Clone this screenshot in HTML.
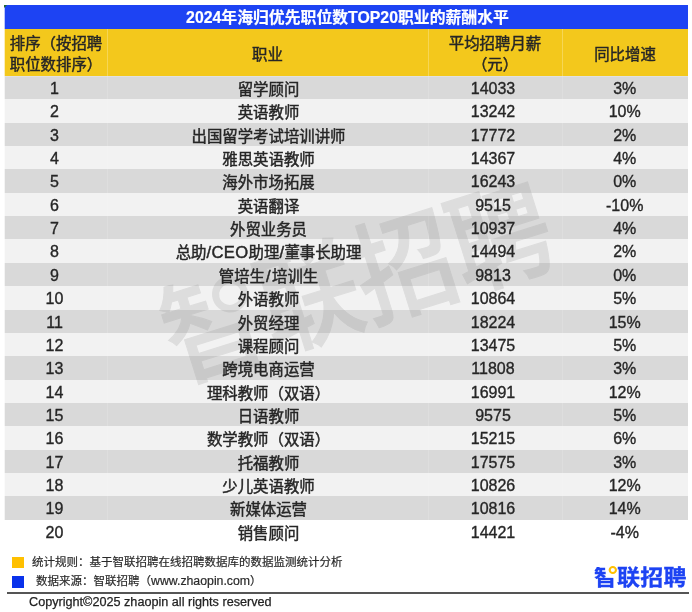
<!DOCTYPE html><html lang="zh-CN"><head><meta charset="utf-8"><title>2024年海归优先职位数TOP20职业的薪酬水平</title><style>
*{margin:0;padding:0;box-sizing:border-box}
html,body{width:692px;height:612px;background:#fff;overflow:hidden}
body{position:relative;font-family:"Liberation Sans","Noto Sans CJK SC",sans-serif;color:#262626}
.abs{position:absolute}
.titlebg{left:5px;top:5px;width:683px;height:24px;background:#1d43f3}
.title{display:block;left:5px;top:5px;width:683px;height:24px;padding-left:2px;-webkit-text-stroke:0.2px #fff;color:#fff;font-weight:bold;font-size:15.85px;line-height:26px;text-align:center;white-space:nowrap}
.hdbg{top:29px;height:47px;background:#f3c81c}
.hd{top:29px;height:47px;padding-top:5px;font-weight:normal;color:#262626;font-size:15.4px;line-height:20.8px;-webkit-text-stroke:0.45px #262626;text-align:center;display:flex;align-items:center;justify-content:center;white-space:nowrap}
.row{left:5px;width:683px}
.tb,.tb thead,.tb tbody,.tb tr{display:block;position:static}
.c{display:block;position:absolute;text-align:center;font-size:15.4px;-webkit-text-stroke:0.45px #262626;white-space:nowrap}
.c.n{font-size:16px;-webkit-text-stroke:0.35px #262626}
.sep{position:absolute;width:1px;background:rgba(255,255,255,.3)}
.wm{left:357px;top:285px;width:0;height:0}
.wmt{position:absolute;font-family:"Liberation Sans","Noto Sans CJK SC",sans-serif;left:-250px;top:-51px;width:500px;height:1em;line-height:1em;text-align:center;font-size:101px;letter-spacing:-1px;font-weight:500;color:#8c8c8c;opacity:.2;-webkit-text-stroke:1px #8c8c8c;transform:rotate(-17.5deg) scale(1,1.11);white-space:nowrap}
.note{font-size:11.5px;line-height:16px;white-space:nowrap;color:#2a2a2a;-webkit-text-stroke:0.2px #2a2a2a}
.lat{font-size:12.3px}
.la{font-size:16.6px;letter-spacing:.4px;-webkit-text-stroke:0.45px #262626}
.sq{width:12px;height:11px}
.copy{font-size:12.65px;line-height:16px;white-space:nowrap;color:#222;-webkit-text-stroke:0.25px #222}
.logo{font-weight:700;font-size:22px;line-height:1em;height:1em;color:#1d43f3;white-space:nowrap;letter-spacing:0.3px;transform:scale(1.045,1);transform-origin:0 0;-webkit-text-stroke:0.3px #1d43f3}
.zw{display:inline-block;position:relative;width:1em;height:1em;line-height:1em}
.zh{display:inline-block;width:1em;height:1em;line-height:1em;clip-path:polygon(0 0,52% 0,52% 48%,100% 48%,100% 100%,0 100%)}
.ring{position:absolute;left:.62em;top:-.06em;width:.37em;height:.37em;box-sizing:border-box;border:.1em solid #ffc000;border-radius:50%}
.wm .ring{border-color:#8c8c8c;left:.58em;top:.08em;width:.36em;height:.325em;border-width:.075em}
</style></head><body>
<div class="abs titlebg"></div>
<div class="abs hdbg" style="left:5px;width:102px"></div>
<div class="abs hdbg" style="left:107px;width:321px"></div>
<div class="abs hdbg" style="left:428px;width:134px"></div>
<div class="abs hdbg" style="left:562px;width:126px"></div>
<div class="abs row" style="top:76px;height:23px;background:#d9d9d9"></div>
<div class="abs row" style="top:99px;height:24px;background:#f2f2f2"></div>
<div class="abs row" style="top:123px;height:23px;background:#d9d9d9"></div>
<div class="abs row" style="top:146px;height:23px;background:#f2f2f2"></div>
<div class="abs row" style="top:169px;height:24px;background:#d9d9d9"></div>
<div class="abs row" style="top:193px;height:23px;background:#f2f2f2"></div>
<div class="abs row" style="top:216px;height:23px;background:#d9d9d9"></div>
<div class="abs row" style="top:239px;height:24px;background:#f2f2f2"></div>
<div class="abs row" style="top:263px;height:23px;background:#d9d9d9"></div>
<div class="abs row" style="top:286px;height:24px;background:#f2f2f2"></div>
<div class="abs row" style="top:310px;height:23px;background:#d9d9d9"></div>
<div class="abs row" style="top:333px;height:23px;background:#f2f2f2"></div>
<div class="abs row" style="top:356px;height:24px;background:#d9d9d9"></div>
<div class="abs row" style="top:380px;height:23px;background:#f2f2f2"></div>
<div class="abs row" style="top:403px;height:23px;background:#d9d9d9"></div>
<div class="abs row" style="top:426px;height:24px;background:#f2f2f2"></div>
<div class="abs row" style="top:450px;height:23px;background:#d9d9d9"></div>
<div class="abs row" style="top:473px;height:23px;background:#f2f2f2"></div>
<div class="abs row" style="top:496px;height:24px;background:#d9d9d9"></div>
<div class="abs row" style="top:520px;height:23px;background:transparent"></div>
<div class="sep" style="left:107px;top:29px;height:47px;background:rgba(255,255,255,.25)"></div>
<div class="sep" style="left:107px;top:76px;height:444px;background:rgba(255,255,255,.14)"></div>
<div class="sep" style="left:428px;top:29px;height:47px;background:rgba(255,255,255,.25)"></div>
<div class="sep" style="left:428px;top:76px;height:444px;background:rgba(255,255,255,.14)"></div>
<div class="sep" style="left:562px;top:29px;height:47px;background:rgba(255,255,255,.25)"></div>
<div class="sep" style="left:562px;top:76px;height:444px;background:rgba(255,255,255,.14)"></div>
<div class="abs" style="left:5px;top:76px;width:683px;height:1px;background:rgba(255,255,255,.22)"></div>
<div class="abs" style="left:4px;top:5px;width:1px;height:24px;background:rgba(29,67,243,.3)"></div>
<div class="abs" style="left:4px;top:29px;width:1px;height:47px;background:rgba(243,200,28,.3)"></div>
<div class="abs" style="left:4px;top:76px;width:1px;height:23px;background:rgba(217,217,217,.3)"></div>
<div class="abs" style="left:4px;top:99px;width:1px;height:24px;background:rgba(242,242,242,.3)"></div>
<div class="abs" style="left:4px;top:123px;width:1px;height:23px;background:rgba(217,217,217,.3)"></div>
<div class="abs" style="left:4px;top:146px;width:1px;height:23px;background:rgba(242,242,242,.3)"></div>
<div class="abs" style="left:4px;top:169px;width:1px;height:24px;background:rgba(217,217,217,.3)"></div>
<div class="abs" style="left:4px;top:193px;width:1px;height:23px;background:rgba(242,242,242,.3)"></div>
<div class="abs" style="left:4px;top:216px;width:1px;height:23px;background:rgba(217,217,217,.3)"></div>
<div class="abs" style="left:4px;top:239px;width:1px;height:24px;background:rgba(242,242,242,.3)"></div>
<div class="abs" style="left:4px;top:263px;width:1px;height:23px;background:rgba(217,217,217,.3)"></div>
<div class="abs" style="left:4px;top:286px;width:1px;height:24px;background:rgba(242,242,242,.3)"></div>
<div class="abs" style="left:4px;top:310px;width:1px;height:23px;background:rgba(217,217,217,.3)"></div>
<div class="abs" style="left:4px;top:333px;width:1px;height:23px;background:rgba(242,242,242,.3)"></div>
<div class="abs" style="left:4px;top:356px;width:1px;height:24px;background:rgba(217,217,217,.3)"></div>
<div class="abs" style="left:4px;top:380px;width:1px;height:23px;background:rgba(242,242,242,.3)"></div>
<div class="abs" style="left:4px;top:403px;width:1px;height:23px;background:rgba(217,217,217,.3)"></div>
<div class="abs" style="left:4px;top:426px;width:1px;height:24px;background:rgba(242,242,242,.3)"></div>
<div class="abs" style="left:4px;top:450px;width:1px;height:23px;background:rgba(217,217,217,.3)"></div>
<div class="abs" style="left:4px;top:473px;width:1px;height:23px;background:rgba(242,242,242,.3)"></div>
<div class="abs" style="left:4px;top:496px;width:1px;height:24px;background:rgba(217,217,217,.3)"></div>
<div class="abs" style="left:4px;top:5px;width:0;height:0;border-top:3px solid #1e6b2e;border-right:3px solid transparent"></div>
<div class="abs wm"><div class="wmt"><span class="zw"><span class="zh">智</span><i class="ring"></i></span>联招聘</div></div>
<table class="tb"><caption class="abs title">2024年海归优先职位数TOP20职业的薪酬水平</caption><thead><tr>
<th class="abs hd" style="left:5px;width:102px"><span>排序（按招聘<br>职位数排序）</span></th>
<th class="abs hd" style="left:107px;width:321px"><span>职业</span></th>
<th class="abs hd" style="left:428px;width:134px"><span>平均招聘月薪<br>（元）</span></th>
<th class="abs hd" style="left:562px;width:126px"><span>同比增速</span></th>
</tr></thead><tbody>
<tr><td class="c n" style="left:3.5px;top:76px;width:102px;height:23px;line-height:25px">1</td><td class="c" style="left:108px;top:76px;width:321px;height:23px;line-height:27px">留学顾问</td><td class="c n" style="left:426px;top:76px;width:134px;height:23px;line-height:25px">14033</td><td class="c n" style="left:561.7px;top:76px;width:126px;height:23px;line-height:25px">3%</td></tr>
<tr><td class="c n" style="left:3.5px;top:99px;width:102px;height:24px;line-height:26px">2</td><td class="c" style="left:108px;top:99px;width:321px;height:24px;line-height:28px">英语教师</td><td class="c n" style="left:426px;top:99px;width:134px;height:24px;line-height:26px">13242</td><td class="c n" style="left:561.7px;top:99px;width:126px;height:24px;line-height:26px">10%</td></tr>
<tr><td class="c n" style="left:3.5px;top:123px;width:102px;height:23px;line-height:25px">3</td><td class="c" style="left:108px;top:123px;width:321px;height:23px;line-height:27px">出国留学考试培训讲师</td><td class="c n" style="left:426px;top:123px;width:134px;height:23px;line-height:25px">17772</td><td class="c n" style="left:561.7px;top:123px;width:126px;height:23px;line-height:25px">2%</td></tr>
<tr><td class="c n" style="left:3.5px;top:146px;width:102px;height:23px;line-height:25px">4</td><td class="c" style="left:108px;top:146px;width:321px;height:23px;line-height:27px">雅思英语教师</td><td class="c n" style="left:426px;top:146px;width:134px;height:23px;line-height:25px">14367</td><td class="c n" style="left:561.7px;top:146px;width:126px;height:23px;line-height:25px">4%</td></tr>
<tr><td class="c n" style="left:3.5px;top:169px;width:102px;height:24px;line-height:26px">5</td><td class="c" style="left:108px;top:169px;width:321px;height:24px;line-height:28px">海外市场拓展</td><td class="c n" style="left:426px;top:169px;width:134px;height:24px;line-height:26px">16243</td><td class="c n" style="left:561.7px;top:169px;width:126px;height:24px;line-height:26px">0%</td></tr>
<tr><td class="c n" style="left:3.5px;top:193px;width:102px;height:23px;line-height:25px">6</td><td class="c" style="left:108px;top:193px;width:321px;height:23px;line-height:27px">英语翻译</td><td class="c n" style="left:426px;top:193px;width:134px;height:23px;line-height:25px">9515</td><td class="c n" style="left:561.7px;top:193px;width:126px;height:23px;line-height:25px">-10%</td></tr>
<tr><td class="c n" style="left:3.5px;top:216px;width:102px;height:23px;line-height:25px">7</td><td class="c" style="left:108px;top:216px;width:321px;height:23px;line-height:27px">外贸业务员</td><td class="c n" style="left:426px;top:216px;width:134px;height:23px;line-height:25px">10937</td><td class="c n" style="left:561.7px;top:216px;width:126px;height:23px;line-height:25px">4%</td></tr>
<tr><td class="c n" style="left:3.5px;top:239px;width:102px;height:24px;line-height:26px">8</td><td class="c" style="left:108px;top:239px;width:321px;height:24px;line-height:28px">总助<span class="la">/CEO</span>助理<span class="la">/</span>董事长助理</td><td class="c n" style="left:426px;top:239px;width:134px;height:24px;line-height:26px">14494</td><td class="c n" style="left:561.7px;top:239px;width:126px;height:24px;line-height:26px">2%</td></tr>
<tr><td class="c n" style="left:3.5px;top:263px;width:102px;height:23px;line-height:25px">9</td><td class="c" style="left:108px;top:263px;width:321px;height:23px;line-height:27px">管培生<span class="la" style="margin:0 1px">/</span>培训生</td><td class="c n" style="left:426px;top:263px;width:134px;height:23px;line-height:25px">9813</td><td class="c n" style="left:561.7px;top:263px;width:126px;height:23px;line-height:25px">0%</td></tr>
<tr><td class="c n" style="left:3.5px;top:286px;width:102px;height:24px;line-height:26px">10</td><td class="c" style="left:108px;top:286px;width:321px;height:24px;line-height:28px">外语教师</td><td class="c n" style="left:426px;top:286px;width:134px;height:24px;line-height:26px">10864</td><td class="c n" style="left:561.7px;top:286px;width:126px;height:24px;line-height:26px">5%</td></tr>
<tr><td class="c n" style="left:3.5px;top:310px;width:102px;height:23px;line-height:25px">11</td><td class="c" style="left:108px;top:310px;width:321px;height:23px;line-height:27px">外贸经理</td><td class="c n" style="left:426px;top:310px;width:134px;height:23px;line-height:25px">18224</td><td class="c n" style="left:561.7px;top:310px;width:126px;height:23px;line-height:25px">15%</td></tr>
<tr><td class="c n" style="left:3.5px;top:333px;width:102px;height:23px;line-height:25px">12</td><td class="c" style="left:108px;top:333px;width:321px;height:23px;line-height:27px">课程顾问</td><td class="c n" style="left:426px;top:333px;width:134px;height:23px;line-height:25px">13475</td><td class="c n" style="left:561.7px;top:333px;width:126px;height:23px;line-height:25px">5%</td></tr>
<tr><td class="c n" style="left:3.5px;top:356px;width:102px;height:24px;line-height:26px">13</td><td class="c" style="left:108px;top:356px;width:321px;height:24px;line-height:28px">跨境电商运营</td><td class="c n" style="left:426px;top:356px;width:134px;height:24px;line-height:26px">11808</td><td class="c n" style="left:561.7px;top:356px;width:126px;height:24px;line-height:26px">3%</td></tr>
<tr><td class="c n" style="left:3.5px;top:380px;width:102px;height:23px;line-height:25px">14</td><td class="c" style="left:108px;top:380px;width:321px;height:23px;line-height:27px">理科教师（双语）</td><td class="c n" style="left:426px;top:380px;width:134px;height:23px;line-height:25px">16991</td><td class="c n" style="left:561.7px;top:380px;width:126px;height:23px;line-height:25px">12%</td></tr>
<tr><td class="c n" style="left:3.5px;top:403px;width:102px;height:23px;line-height:25px">15</td><td class="c" style="left:108px;top:403px;width:321px;height:23px;line-height:27px">日语教师</td><td class="c n" style="left:426px;top:403px;width:134px;height:23px;line-height:25px">9575</td><td class="c n" style="left:561.7px;top:403px;width:126px;height:23px;line-height:25px">5%</td></tr>
<tr><td class="c n" style="left:3.5px;top:426px;width:102px;height:24px;line-height:26px">16</td><td class="c" style="left:108px;top:426px;width:321px;height:24px;line-height:28px">数学教师（双语）</td><td class="c n" style="left:426px;top:426px;width:134px;height:24px;line-height:26px">15215</td><td class="c n" style="left:561.7px;top:426px;width:126px;height:24px;line-height:26px">6%</td></tr>
<tr><td class="c n" style="left:3.5px;top:450px;width:102px;height:23px;line-height:25px">17</td><td class="c" style="left:108px;top:450px;width:321px;height:23px;line-height:27px">托福教师</td><td class="c n" style="left:426px;top:450px;width:134px;height:23px;line-height:25px">17575</td><td class="c n" style="left:561.7px;top:450px;width:126px;height:23px;line-height:25px">3%</td></tr>
<tr><td class="c n" style="left:3.5px;top:473px;width:102px;height:23px;line-height:25px">18</td><td class="c" style="left:108px;top:473px;width:321px;height:23px;line-height:27px">少儿英语教师</td><td class="c n" style="left:426px;top:473px;width:134px;height:23px;line-height:25px">10826</td><td class="c n" style="left:561.7px;top:473px;width:126px;height:23px;line-height:25px">12%</td></tr>
<tr><td class="c n" style="left:3.5px;top:496px;width:102px;height:24px;line-height:26px">19</td><td class="c" style="left:108px;top:496px;width:321px;height:24px;line-height:28px">新媒体运营</td><td class="c n" style="left:426px;top:496px;width:134px;height:24px;line-height:26px">10816</td><td class="c n" style="left:561.7px;top:496px;width:126px;height:24px;line-height:26px">14%</td></tr>
<tr><td class="c n" style="left:3.5px;top:520px;width:102px;height:23px;line-height:25px">20</td><td class="c" style="left:108px;top:520px;width:321px;height:23px;line-height:27px">销售顾问</td><td class="c n" style="left:426px;top:520px;width:134px;height:23px;line-height:25px">14421</td><td class="c n" style="left:561.7px;top:520px;width:126px;height:23px;line-height:25px">-4%</td></tr>
</tbody></table>
<div class="abs sq" style="left:12px;top:557px;background:#ffc000"></div>
<div class="abs note" style="left:32px;top:554px">统计规则：基于智联招聘在线招聘数据库的数据监测统计分析</div>
<div class="abs sq" style="left:12px;top:576px;height:12px;background:#0932eb"></div>
<div class="abs note" style="left:36px;top:573px">数据来源：智联招聘（<span class="lat">www.zhaopin.com</span>）</div>
<div class="abs" style="left:7px;top:592px;width:682px;height:2px;background:#555"></div>
<div class="abs copy" style="left:29px;top:594px">Copyright©2025 zhaopin all rights reserved</div>
<div class="abs logo" style="left:593.6px;top:567px"><span class="zw"><span class="zh">智</span><i class="ring"></i></span>联招聘</div>
</body></html>
